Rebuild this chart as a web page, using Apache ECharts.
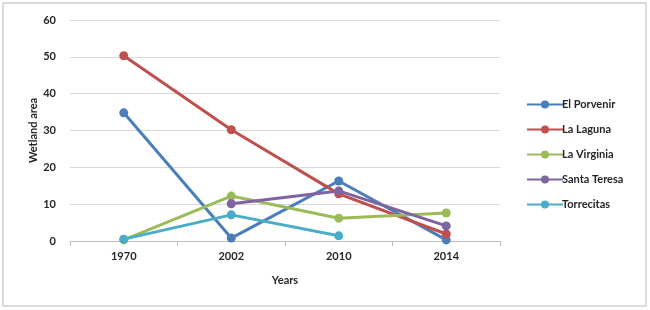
<!DOCTYPE html>
<html>
<head>
<meta charset="utf-8">
<script src="https://cdn.jsdelivr.net/npm/echarts@6/dist/echarts.min.js"></script>
<style>
  html, body { margin: 0; padding: 0; background: #fff; }
  #chart { width: 650px; height: 310px; }
</style>
</head>
<body>
<div id="chart"></div>
<script>
// data
const years = ["1970", "2002", "2010", "2014"];
const elPorvenir = [34.8, 0.8, 16.3, 0.3];
const laLaguna = [50.3, 30.2, 12.8, 1.9];
const laVirginia = [0.3, 12.2, 6.2, 7.6];
const santaTeresa = [null, 10.1, 13.6, 4.1];
const torrecitas = [0.5, 7.1, 1.4, null];
const seriesNames = ["El Porvenir", "La Laguna", "La Virginia", "Santa Teresa", "Torrecitas"];
const colors = ["#4a7ebb", "#c0504d", "#9bbb59", "#8064a2", "#4bacc6"];

const chart = echarts.init(document.getElementById("chart"));

const font = "Lato, 'Open Sans', sans-serif";
const allData = [elPorvenir, laLaguna, laVirginia, santaTeresa, torrecitas];

const option = {
  animation: false,
  color: colors,
  graphic: [{
    type: "rect",
    shape: { x: 3, y: 3, width: 643, height: 303 },
    style: { fill: "none", stroke: "#d0d0d0", lineWidth: 1.5 }
  }],
  grid: { left: 70, right: 150, top: 20, bottom: 69 },
  legend: {
    orient: "vertical",
    left: 521,
    top: 94,
    itemGap: 14,
    itemWidth: 36,
    itemHeight: 10,
    textStyle: { fontFamily: font, fontWeight: "bold", fontSize: 11, color: "#262626", padding: [0, 0, 0, -6] },
    data: seriesNames
  },
  xAxis: {
    type: "category",
    data: years,
    boundaryGap: true,
    name: "Years",
    nameLocation: "middle",
    nameGap: 34,
    nameTextStyle: { fontFamily: font, fontWeight: "bold", fontSize: 11, color: "#262626" },
    axisLine: { lineStyle: { color: "#bfbfbf", width: 1 } },
    axisTick: { show: true, alignWithLabel: false, length: 5, lineStyle: { color: "#bfbfbf" } },
    axisLabel: { fontFamily: font, fontWeight: "bold", fontSize: 11, color: "#262626", margin: 10 }
  },
  yAxis: {
    type: "value",
    min: 0,
    max: 60,
    interval: 10,
    name: "Wetland area",
    nameLocation: "middle",
    nameGap: 31,
    nameMoveOverlap: false,
    nameTextStyle: { fontFamily: font, fontWeight: "bold", fontSize: 11, color: "#262626" },
    axisLine: { show: false },
    axisTick: { show: false },
    axisLabel: { fontFamily: font, fontWeight: "bold", fontSize: 11, color: "#262626", margin: 14 },
    splitLine: { lineStyle: { color: "#d9d9d9", width: 1 } }
  },
  series: seriesNames.map((name, i) => ({
    name: name,
    type: "line",
    data: allData[i],
    symbol: "circle",
    symbolSize: 9,
    connectNulls: false,
    lineStyle: { width: 3 },
    itemStyle: { color: colors[i] }
  }))
};

chart.setOption(option);
</script>
</body>
</html>
